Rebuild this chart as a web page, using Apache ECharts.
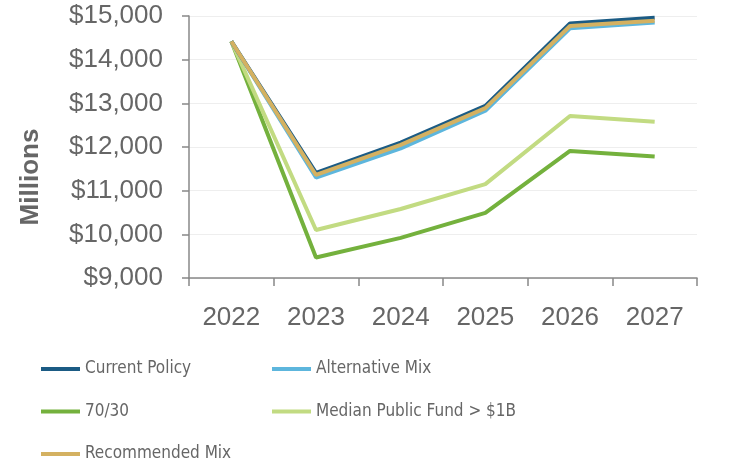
<!DOCTYPE html>
<html>
<head>
<meta charset="utf-8">
<script src="https://cdn.jsdelivr.net/npm/echarts@6/dist/echarts.min.js"></script>
<style>
  html, body { margin: 0; padding: 0; background: #fff; }
  #chart { width: 738px; height: 465px; }
</style>
</head>
<body>
<div id="chart"></div>
<script>
// data (millions of dollars)
const years = ['2022', '2023', '2024', '2025', '2026', '2027'];
const currentPolicy = [14420, 11410, 12100, 12940, 14830, 14960];
const alternativeMix = [14420, 11300, 11970, 12830, 14720, 14850];
const mix7030 = [14420, 9470, 9920, 10490, 11910, 11780];
const medianFund = [14420, 10100, 10580, 11150, 12710, 12580];
const recommendedMix = [14420, 11360, 12050, 12890, 14770, 14890];

const textFont = 'Liberation Sans, Arial, sans-serif';
const legendFont = '"DejaVu Sans Condensed", "Liberation Sans Narrow", sans-serif';

const chart = echarts.init(document.getElementById('chart'), null, { renderer: 'canvas' });

const mkLine = (name, data, color) => ({
  name: name,
  type: 'line',
  data: data,
  symbol: 'none',
  lineStyle: { width: 4, color: color },
  itemStyle: { color: color }
});

const legendCommon = {
  orient: 'vertical',
  top: 359,
  height: 106,
  padding: 0,
  icon: 'rect',
  itemWidth: 39,
  itemHeight: 4,
  itemGap: 22.5,
  textStyle: { fontFamily: legendFont, fontSize: 17, color: '#666', lineHeight: 20 }
};

chart.setOption({
  animation: false,
  grid: { left: 189, right: 41, top: 16, bottom: 187 },
  legend: [
    Object.assign({ left: 41, data: ['Current Policy', '70/30', 'Recommended Mix'] }, legendCommon),
    Object.assign({ left: 272, data: ['Alternative Mix', 'Median Public Fund > $1B'] }, legendCommon)
  ],
  xAxis: {
    type: 'category',
    data: years,
    boundaryGap: true,
    axisLine: { lineStyle: { color: '#888', width: 1.5 } },
    axisTick: { show: true, length: 8, lineStyle: { color: '#888', width: 1.5 } },
    axisLabel: { fontFamily: textFont, fontSize: 26, color: '#666', margin: 27 }
  },
  yAxis: {
    type: 'value',
    min: 9000,
    max: 15000,
    interval: 1000,
    name: 'Millions',
    nameLocation: 'middle',
    nameGap: 145,
    nameTextStyle: {
      fontFamily: textFont, fontSize: 26, fontWeight: 'bold', color: '#666',
      padding: [0, 60, 0, 0]
    },
    axisLine: { show: true, lineStyle: { color: '#888', width: 1.5 } },
    axisTick: { show: true, length: 7, lineStyle: { color: '#888', width: 1.5 } },
    splitLine: { lineStyle: { color: '#eeeeee', width: 1 } },
    axisLabel: {
      fontFamily: textFont, fontSize: 26, color: '#666', margin: 26,
      formatter: v => '$' + v.toLocaleString('en-US')
    }
  },
  series: [
    mkLine('70/30', mix7030, '#74b13d'),
    mkLine('Median Public Fund > $1B', medianFund, '#c2db82'),
    mkLine('Alternative Mix', alternativeMix, '#5db6dd'),
    mkLine('Current Policy', currentPolicy, '#1b5b84'),
    mkLine('Recommended Mix', recommendedMix, '#d4b161')
  ]
});
</script>
</body>
</html>
